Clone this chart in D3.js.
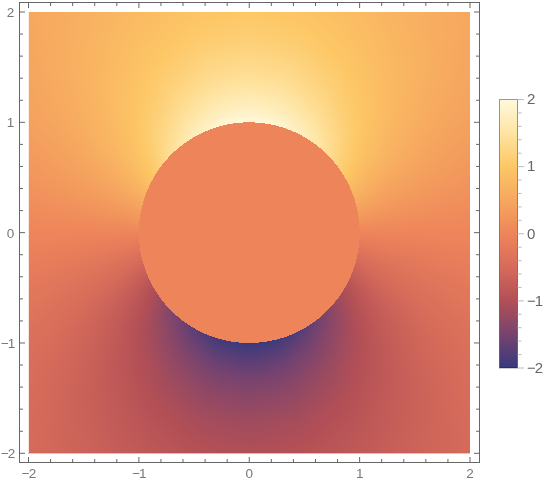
<!DOCTYPE html>
<html><head><meta charset="utf-8">
<script src="https://cdnjs.cloudflare.com/ajax/libs/d3/7.8.5/d3.min.js"></script>
<style>
html,body{margin:0;padding:0;background:#fff;overflow:hidden}
#wrap{position:relative;width:550px;height:483px}
canvas,svg{position:absolute;left:0;top:0}
text{font-family:"Liberation Sans",Arial,sans-serif}
</style></head><body><div id="wrap"><canvas id="c" width="550" height="483"></canvas><svg id="s" width="550" height="483"></svg></div>
<script>
// Field values (upper half, right side); the lower half reads as the opposite sign.
const radii = [1, 1.1, 1.2, 1.35, 1.5, 1.75, 2, 2.4, 2.85];
const anglesDeg = [0, 15, 30, 45, 60, 75, 90];
const r100 = [0, 0.52, 1.00, 1.41, 1.73, 1.93, 2.00];
const r110 = [0, 0.47, 0.91, 1.29, 1.57, 1.76, 1.82];
const r120 = [0, 0.43, 0.83, 1.18, 1.44, 1.61, 1.67];
const r135 = [0, 0.38, 0.74, 1.05, 1.28, 1.43, 1.48];
const r150 = [0, 0.35, 0.67, 0.94, 1.15, 1.29, 1.33];
const r175 = [0, 0.30, 0.57, 0.81, 0.99, 1.10, 1.14];
const r200 = [0, 0.26, 0.50, 0.71, 0.87, 0.97, 1.00];
const r240 = [0, 0.22, 0.42, 0.59, 0.72, 0.80, 0.83];
const r285 = [0, 0.18, 0.35, 0.50, 0.61, 0.68, 0.70];
const rows = [r100, r110, r120, r135, r150, r175, r200, r240, r285];
const colorValues = [-2, -1.5, -1, -0.5, 0, 0.5, 1, 1.5, 2];
const colorStops = ["#37397f", "#77436f", "#b24f56", "#d66b5a", "#ee855a", "#f6a75f", "#fdc765", "#fee4a2", "#fff9dc"];
const majorTicks = [-2, -1, 0, 1, 2];
const minorTicks = [-1.8,-1.6,-1.4,-1.2,-0.8,-0.6,-0.4,-0.2,0.2,0.4,0.6,0.8,1.2,1.4,1.6,1.8];
const circleRadius = 1;

const x = d3.scaleLinear().domain([-2, 2]).range([28.5, 470]);
const y = d3.scaleLinear().domain([-2, 2]).range([453.3, 12]);
const yL = d3.scaleLinear().domain([-2, 2]).range([368, 99.5]);
const color = d3.scaleLinear().domain(colorValues).range(colorStops).interpolate(d3.interpolateRgb).clamp(true);
const rScale = d3.scaleLinear().domain(radii).range(d3.range(radii.length)).clamp(true);
const aScale = d3.scaleLinear().domain(anglesDeg).range(d3.range(anglesDeg.length)).clamp(true);

function field(u, v) {
  const r = Math.hypot(u, v);
  if (r < circleRadius) return 0;
  const a = Math.atan2(Math.abs(v), Math.abs(u)) * 180 / Math.PI;
  const ri = rScale(r), ai = aScale(a);
  const r0 = Math.min(Math.floor(ri), radii.length - 2), a0 = Math.min(Math.floor(ai), anglesDeg.length - 2);
  const fr = ri - r0, fa = ai - a0;
  const val = (1 - fr) * ((1 - fa) * rows[r0][a0] + fa * rows[r0][a0 + 1]) + fr * ((1 - fa) * rows[r0 + 1][a0] + fa * rows[r0 + 1][a0 + 1]);
  return v < 0 ? -val : val;
}

// density raster; the pale left column and bottom row are the partly covered edge pixels
const ctx = document.getElementById("c").getContext("2d");
const x0 = Math.floor(x(-2)), x1 = Math.ceil(x(2)), y0 = Math.floor(y(2)), y1 = Math.ceil(y(-2)) + 1;
const img = ctx.createImageData(x1 - x0, y1 - y0);
for (let j = y0; j < y1; j++) for (let i = x0; i < x1; i++) {
  const c = d3.rgb(color(field(x.invert(i + 0.5), y.invert(j + 0.5))));
  const k = ((j - y0) * (x1 - x0) + (i - x0)) * 4;
  let alpha = 255;
  if (i === x0) alpha = 50;
  if (j === y1 - 1) alpha = 0;
  else if (j === y1 - 2) alpha = 110;
  img.data[k] = c.r; img.data[k + 1] = c.g; img.data[k + 2] = c.b; img.data[k + 3] = alpha;
}
ctx.putImageData(img, x0, y0);

const svg = d3.select("#s");
const frameCol = "#666";
const frame = {l: 19.5, t: 2.5, r: 479.5, b: 462.5};
svg.append("rect").attr("x", frame.l).attr("y", frame.t).attr("width", frame.r - frame.l).attr("height", frame.b - frame.t)
  .attr("fill", "none").attr("stroke", frameCol).attr("stroke-width", 1);

function style(g, col, txt, size) {
  g.select(".domain").remove();
  g.selectAll("line").attr("stroke", col).attr("stroke-width", 1);
  g.selectAll("text").attr("fill", txt).attr("font-size", size)
    .attr("letter-spacing", d => d < 0 ? -1 : null);
}
const fmt = d => String(d).replace("-", "\u2212");
function pair(axisFn, scale, tx, ty, inward, labelled, pad) {
  const g = svg.append("g").attr("transform", `translate(${tx},${ty})`);
  g.append("g").call(axisFn(scale).tickValues(minorTicks).tickFormat("").tickSize(inward * 3.5).offset(0)).call(style, frameCol, "#777", 13.5);
  g.append("g").call(axisFn(scale).tickValues(majorTicks).tickFormat(labelled ? fmt : "").tickSize(inward * 5.5).tickPadding(pad).offset(0)).call(style, frameCol, "#777", 13.5);
  return g;
}
const gb = pair(d3.axisBottom, x, 0, frame.b, -1, true, 0);
gb.selectAll("text").attr("y", 15.5).attr("dy", 0);
const gl = pair(d3.axisLeft, y, frame.l, 0, -1, true, 0);
gl.selectAll("text").attr("x", -5.2).attr("dy", "0.36em");
pair(d3.axisTop, x, 0, frame.t, -1, false, 0);
pair(d3.axisRight, y, frame.r, 0, -1, false, 0);

// legend
const defs = svg.append("defs");
const grad = defs.append("linearGradient").attr("id", "lg").attr("x1", 0).attr("x2", 0).attr("y1", 1).attr("y2", 0);
grad.selectAll("stop").data(colorValues).join("stop")
  .attr("offset", d => (d + 2) / 4).attr("stop-color", d => color(d));
const lx = 499.5, lw = 18;
svg.append("rect").attr("x", lx).attr("y", yL(2)).attr("width", lw).attr("height", yL(-2) - yL(2))
  .attr("fill", "url(#lg)").attr("stroke", "#000").attr("stroke-opacity", 0.4).attr("stroke-width", 1);
const lg = svg.append("g").attr("transform", `translate(${lx + lw},0)`);
lg.append("g").call(d3.axisRight(yL).tickValues(minorTicks).tickFormat("").tickSize(4).offset(0)).call(style, "#bbb", "#666", 14);
lg.append("g").call(d3.axisRight(yL).tickValues(majorTicks).tickFormat(fmt).tickSize(6.5).tickPadding(3).offset(0)).call(style, "#bbb", "#666", 15);
</script></body></html>
